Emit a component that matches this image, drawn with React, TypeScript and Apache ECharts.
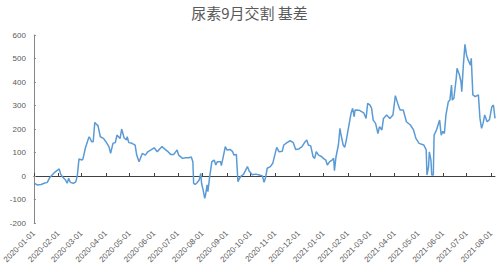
import React, { useEffect, useRef } from "react";
import * as echarts from "echarts";

const title = "尿素9月交割 基差";

const dates: string[] = [
  "2020-01-02", "2020-01-05", "2020-01-10", "2020-01-14", "2020-01-18", "2020-01-21", "2020-01-24", "2020-01-28",
  "2020-02-02", "2020-02-04", "2020-02-06", "2020-02-10", "2020-02-12", "2020-02-14", "2020-02-16", "2020-02-20",
  "2020-02-23", "2020-02-25", "2020-02-27", "2020-03-02", "2020-03-03", "2020-03-06", "2020-03-10", "2020-03-11",
  "2020-03-14", "2020-03-16", "2020-03-18", "2020-03-21", "2020-03-22", "2020-03-25", "2020-03-29", "2020-04-01",
  "2020-04-05", "2020-04-07", "2020-04-10", "2020-04-13", "2020-04-15", "2020-04-19", "2020-04-21", "2020-04-24",
  "2020-04-27", "2020-04-28", "2020-04-30", "2020-05-04", "2020-05-08", "2020-05-10", "2020-05-13", "2020-05-17",
  "2020-05-21", "2020-05-24", "2020-05-28", "2020-06-01", "2020-06-05", "2020-06-08", "2020-06-11", "2020-06-18",
  "2020-06-22", "2020-06-26", "2020-06-30", "2020-07-02", "2020-07-07", "2020-07-11", "2020-07-15", "2020-07-18",
  "2020-07-20", "2020-07-21", "2020-07-23", "2020-07-25", "2020-07-28", "2020-07-30", "2020-07-31", "2020-08-02",
  "2020-08-04", "2020-08-05", "2020-08-07", "2020-08-08", "2020-08-10", "2020-08-13", "2020-08-16", "2020-08-18",
  "2020-08-20", "2020-08-24", "2020-08-25", "2020-08-27", "2020-08-30", "2020-09-01", "2020-09-05", "2020-09-08",
  "2020-09-10", "2020-09-13", "2020-09-14", "2020-09-15", "2020-09-17", "2020-09-19", "2020-09-22", "2020-09-27",
  "2020-09-29", "2020-10-03", "2020-10-07", "2020-10-11", "2020-10-16", "2020-10-18", "2020-10-20", "2020-10-22",
  "2020-10-26", "2020-10-29", "2020-11-03", "2020-11-06", "2020-11-10", "2020-11-12", "2020-11-16", "2020-11-20",
  "2020-11-24", "2020-11-27", "2020-12-01", "2020-12-05", "2020-12-09", "2020-12-11", "2020-12-13", "2020-12-16",
  "2020-12-19", "2020-12-21", "2020-12-23", "2020-12-26", "2020-12-30", "2021-01-01", "2021-01-04", "2021-01-06",
  "2021-01-09", "2021-01-12", "2021-01-14", "2021-01-15", "2021-01-17", "2021-01-20", "2021-01-22", "2021-01-23",
  "2021-01-26", "2021-01-28", "2021-01-30", "2021-02-02", "2021-02-05", "2021-02-07", "2021-02-09", "2021-02-10",
  "2021-02-15", "2021-02-21", "2021-02-24", "2021-02-26", "2021-03-01", "2021-03-03", "2021-03-05", "2021-03-08",
  "2021-03-11", "2021-03-13", "2021-03-16", "2021-03-18", "2021-03-22", "2021-03-26", "2021-03-30", "2021-04-02",
  "2021-04-05", "2021-04-08", "2021-04-12", "2021-04-16", "2021-04-21", "2021-04-25", "2021-04-28", "2021-05-02",
  "2021-05-08", "2021-05-11", "2021-05-12", "2021-05-14", "2021-05-15", "2021-05-17", "2021-05-18", "2021-05-20",
  "2021-05-21", "2021-05-24", "2021-05-26", "2021-05-28", "2021-05-30", "2021-06-01", "2021-06-03", "2021-06-05",
  "2021-06-08", "2021-06-10", "2021-06-12", "2021-06-13", "2021-06-15", "2021-06-18", "2021-06-19", "2021-06-22",
  "2021-06-24", "2021-06-25", "2021-06-27", "2021-06-29", "2021-07-01", "2021-07-03", "2021-07-06", "2021-07-07",
  "2021-07-09", "2021-07-12", "2021-07-16", "2021-07-18", "2021-07-20", "2021-07-22", "2021-07-24", "2021-07-27",
  "2021-07-30", "2021-08-02", "2021-08-04", "2021-08-06",
];

const basis: number[] = [
  -31, -38, -36, -31, -27, -7, 4, 18,
  30, 7, -3, -17, -31, -10, -27, -31,
  -25, 4, 72, 68, 72, 118, 160, 167,
  146, 146, 228, 217, 215, 167, 160, 146,
  124, 96, 139, 142, 174, 160, 200, 163,
  153, 167, 142, 139, 131, 89, 61, 96,
  89, 103, 111, 120, 103, 115, 125, 105,
  92, 92, 111, 89, 75, 78, 78, 81,
  61, -31, -36, -30, -17, 11, -31, -60,
  -95, -81, -38, -67, -10, 61, 68, 47,
  61, 61, 44, 75, 125, 111, 113, 105,
  89, 92, 33, -24, -10, 0, 7, 40,
  22, 5, 8, 5, 0, -27, -5, 33,
  40, 54, 122, 103, 105, 132, 142, 150,
  142, 113, 115, 125, 146, 153, 132, 128,
  82, 75, 103, 89, 82, 75, 68, 47,
  61, 68, 75, 23, 82, 132, 203, 181,
  132, 122, 153, 210, 267, 288, 252, 281,
  280, 269, 245, 309, 302, 288, 238, 224,
  181, 210, 196, 245, 260, 245, 260, 342,
  309, 281, 281, 231, 217, 196, 160, 139,
  132, 111, 4, 40, 103, 68, 4, 4,
  174, 196, 217, 238, 174, 190, 181, 260,
  316, 323, 387, 323, 331, 416, 458, 431,
  401, 359, 472, 560, 515, 494, 472, 501,
  345, 338, 345, 245, 203, 225, 260, 231,
  240, 295, 302, 245,
];

const monthTicks: string[] = [
  "2020-01-01", "2020-02-01", "2020-03-01", "2020-04-01", "2020-05-01", "2020-06-01", "2020-07-01",
  "2020-08-01", "2020-09-01", "2020-10-01", "2020-11-01", "2020-12-01", "2021-01-01", "2021-02-01",
  "2021-03-01", "2021-04-01", "2021-05-01", "2021-06-01", "2021-07-01", "2021-08-01",
];

const xMin = "2020-01-01";
const xMax = "2021-08-06";

const DAY = 86400000;
const base = Date.parse(xMin);
const toDay = (s: string) => Math.round((Date.parse(s) - base) / DAY);

function fmt(day: number): string {
  const d = new Date(base + Math.round(day) * DAY);
  const p = (n: number) => (n < 10 ? "0" + n : "" + n);
  return d.getUTCFullYear() + "-" + p(d.getUTCMonth() + 1) + "-" + p(d.getUTCDate());
}

export default function App() {
  const ref = useRef<HTMLDivElement>(null);
  useEffect(() => {
    if (!ref.current) return;
    const chart = echarts.init(ref.current, null, { renderer: "svg" });
    const tickVals = monthTicks.map(toDay);
    const data = dates.map((d, i) => [toDay(d), basis[i]]);
    const labelColor = "#595959";
    chart.setOption({
      animation: false,
      backgroundColor: "#ffffff",
      title: {
        text: title,
        left: "center",
        top: 0,
        textStyle: {
          fontFamily: "Noto Sans CJK SC",
          fontSize: 15,
          fontWeight: "normal",
          color: "#595959",
        },
      },
      grid: { left: 32, right: 4, top: 35, bottom: 49, containLabel: false },
      xAxis: [
        {
          type: "value",
          min: 0,
          max: toDay(xMax),
          position: "bottom",
          axisLine: { show: false, onZero: false },
          axisTick: { show: false },
          splitLine: { show: false },
          axisLabel: {
            customValues: tickVals,
            rotate: 45,
            margin: 9,
            fontSize: 8,
            fontFamily: "Liberation Sans",
            color: labelColor,
            formatter: (v: number) => fmt(v),
            hideOverlap: false,
            showMinLabel: true,
            showMaxLabel: true,
          },
        },
        {
          type: "value",
          min: 0,
          max: toDay(xMax),
          position: "bottom",
          axisLine: { show: true, onZero: true, lineStyle: { color: "#404040", width: 1 } },
          axisTick: {
            show: true,
            inside: true,
            length: 3,
            customValues: tickVals,
            lineStyle: { color: "#404040" },
          },
          axisLabel: { show: false },
          splitLine: { show: false },
        },
      ],
      yAxis: {
        type: "value",
        min: -200,
        max: 600,
        interval: 100,
        axisLine: { show: true, lineStyle: { color: "#868686" } },
        axisTick: { show: true, inside: true, length: 2, lineStyle: { color: "#868686" } },
        splitLine: { show: false },
        axisLabel: {
          fontSize: 8,
          fontFamily: "Liberation Sans",
          color: labelColor,
          margin: 8,
        },
      },
      series: [
        {
          type: "line",
          xAxisIndex: 0,
          data,
          symbol: "none",
          lineStyle: { color: "#5B9BD5", width: 1.5 },
          itemStyle: { color: "#5B9BD5" },
        },
      ],
    });
    return () => chart.dispose();
  }, []);
  return (
    <div
      ref={ref}
      style={{ position: "fixed", left: 0, top: 0, width: 499, height: 272, background: "#fff" }}
    />
  );
}
